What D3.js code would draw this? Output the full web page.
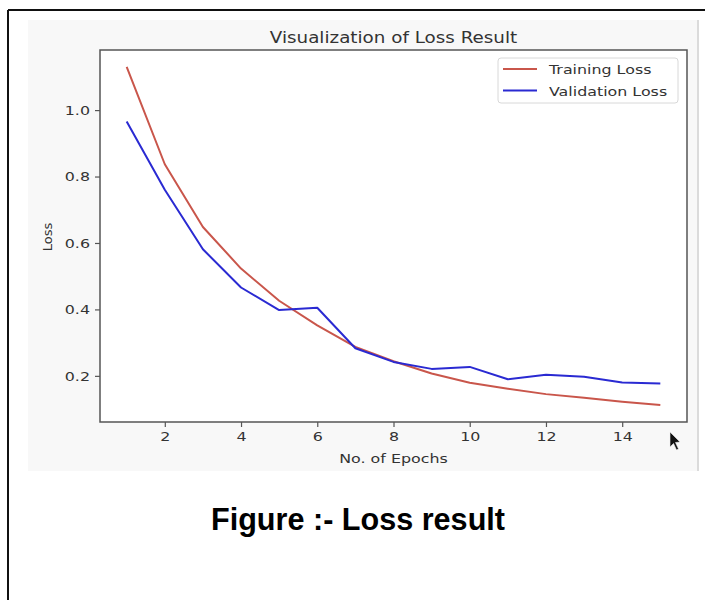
<!DOCTYPE html>
<html>
<head>
<meta charset="utf-8">
<script src="https://cdn.jsdelivr.net/npm/d3@7"></script>
<style>
    body { margin: 0; background: #ffffff; }
    text { font-family: "DejaVu Sans", sans-serif; fill: #333333; }
</style>
</head>
<body>
<div id="loss-chart"></div>
<script>

// data
let epochs = [1, 2, 3, 4, 5, 6, 7, 8, 9, 10, 11, 12, 13, 14, 15];
let trainingLoss = [1.130, 0.837, 0.648, 0.523, 0.426, 0.352, 0.287, 0.244, 0.207, 0.179, 0.161, 0.145, 0.134, 0.122, 0.112];
let validationLoss = [0.966, 0.760, 0.581, 0.466, 0.398, 0.405, 0.283, 0.242, 0.221, 0.227, 0.190, 0.203, 0.197, 0.180, 0.177];

let xTicks = [2, 4, 6, 8, 10, 12, 14];
let yTicks = [0.2, 0.4, 0.6, 0.8, 1.0];

let seriesNames = ["Training Loss", "Validation Loss"];
let seriesColors = ["#c9564b", "#2a2ad2"];

let chartTitle = "Visualization of Loss Result";
let xLabel = "No. of Epochs";
let yLabel = "Loss";
let caption = "Figure :- Loss result";

let width = 705;
let height = 600;

// screenshot stretched the text a bit sideways
let textStretch = 1.22;

let svg = d3.select("#loss-chart").append("svg")
    .attr("width", width)
    .attr("height", height);

// page frame (black border top + left)
svg.append("line")
    .attr("x1", 8).attr("y1", 10).attr("x2", width).attr("y2", 10)
    .attr("stroke", "#111").attr("stroke-width", 2);
svg.append("line")
    .attr("x1", 8).attr("y1", 10).attr("x2", 8).attr("y2", height)
    .attr("stroke", "#111").attr("stroke-width", 2);

// grey screenshot background
svg.append("rect")
    .attr("x", 28).attr("y", 20)
    .attr("width", 669).attr("height", 451)
    .attr("fill", "#f8f8f8");
svg.append("line")
    .attr("x1", 698).attr("y1", 20).attr("x2", 698).attr("y2", 471)
    .attr("stroke", "#cfcfcf").attr("stroke-width", 1.5);

// plot area
let plot = {left: 100, right: 687, top: 50, bottom: 422};

// matplotlib style 5% margins
let allLoss = trainingLoss.concat(validationLoss);
let yExt = d3.extent(allLoss);
let yPad = (yExt[1] - yExt[0]) * 0.05;
let xExt = d3.extent(epochs);
let xPad = (xExt[1] - xExt[0]) * 0.05;

let x = d3.scaleLinear()
    .domain([xExt[0] - xPad, xExt[1] + xPad])
    .range([plot.left, plot.right]);

let y = d3.scaleLinear()
    .domain([yExt[0] - yPad, yExt[1] + yPad])
    .range([plot.bottom, plot.top]);

svg.append("rect")
    .attr("x", plot.left).attr("y", plot.top)
    .attr("width", plot.right - plot.left).attr("height", plot.bottom - plot.top)
    .attr("fill", "#ffffff");

// axes
let xAxis = svg.append("g")
    .attr("transform", `translate(0, ${plot.bottom})`)
    .call(d3.axisBottom(x).tickValues(xTicks).tickSize(5).tickPadding(5).tickSizeOuter(0));

let yAxis = svg.append("g")
    .attr("transform", `translate(${plot.left}, 0)`)
    .call(d3.axisLeft(y).tickValues(yTicks).tickFormat(d3.format(".1f")).tickSize(5).tickPadding(5).tickSizeOuter(0));

[xAxis, yAxis].forEach(g => {
    g.select(".domain").remove();
    g.selectAll(".tick line").attr("stroke", "#555").attr("stroke-width", 1.2);
    g.selectAll(".tick text")
        .style("font-size", "13px")
        .attr("fill", "#333");
});

// spines
svg.append("rect")
    .attr("x", plot.left).attr("y", plot.top)
    .attr("width", plot.right - plot.left).attr("height", plot.bottom - plot.top)
    .attr("fill", "none")
    .attr("stroke", "#555")
    .attr("stroke-width", 1.5);

// lines
let line = d3.line()
    .x((d, i) => x(epochs[i]))
    .y(d => y(d));

[trainingLoss, validationLoss].forEach((series, i) => {
    svg.append("path")
        .datum(series)
        .attr("fill", "none")
        .attr("stroke", seriesColors[i])
        .attr("stroke-width", 2)
        .attr("stroke-linejoin", "round")
        .attr("d", line);
});

// title and axis labels
svg.append("text")
    .attr("class", "stretch")
    .attr("x", (plot.left + plot.right) / 2)
    .attr("y", 43)
    .attr("text-anchor", "middle")
    .style("font-size", "15px")
    .text(chartTitle);

svg.append("text")
    .attr("class", "stretch")
    .attr("x", (plot.left + plot.right) / 2)
    .attr("y", 463)
    .attr("text-anchor", "middle")
    .style("font-size", "13px")
    .text(xLabel);

svg.append("text")
    .attr("transform", `translate(52, 237) rotate(-90)`)
    .attr("text-anchor", "middle")
    .style("font-size", "13px")
    .text(yLabel);

// legend
let legend = svg.append("g");
legend.append("rect")
    .attr("x", 498).attr("y", 58)
    .attr("width", 180).attr("height", 45)
    .attr("rx", 3)
    .attr("fill", "#ffffff")
    .attr("stroke", "#d8d8d8");

seriesNames.forEach((name, i) => {
    let ly = 69 + i * 21.5;
    legend.append("line")
        .attr("x1", 503).attr("x2", 537)
        .attr("y1", ly).attr("y2", ly)
        .attr("stroke", seriesColors[i])
        .attr("stroke-width", 2);
    legend.append("text")
        .attr("class", "stretch")
        .attr("x", 549)
        .attr("y", ly + 5)
        .style("font-size", "13px")
        .text(name);
});

// mouse pointer in the screenshot
svg.append("path")
    .attr("d", "M670,432 L670,447 L673.5,443.5 L676.5,450 L678.5,449 L675.5,442.5 L680,442 Z")
    .attr("fill", "#111")
    .attr("stroke", "#eee")
    .attr("stroke-width", 0.6);

// caption under the figure
svg.append("text")
    .attr("x", 358)
    .attr("y", 530)
    .attr("text-anchor", "middle")
    .attr("textLength", 294)
    .attr("lengthAdjust", "spacingAndGlyphs")
    .style("font-family", "'Liberation Sans Narrow', 'Arial Narrow', 'Liberation Sans', sans-serif")
    .style("font-weight", "bold")
    .style("font-size", "31px")
    .style("fill", "#000")
    .text(caption);

// widen the screenshot texts a bit
svg.selectAll("text.stretch, .tick text").each(function () {
    let w = this.getComputedTextLength();
    d3.select(this)
        .attr("textLength", w * textStretch)
        .attr("lengthAdjust", "spacingAndGlyphs");
});

</script>
</body>
</html>
